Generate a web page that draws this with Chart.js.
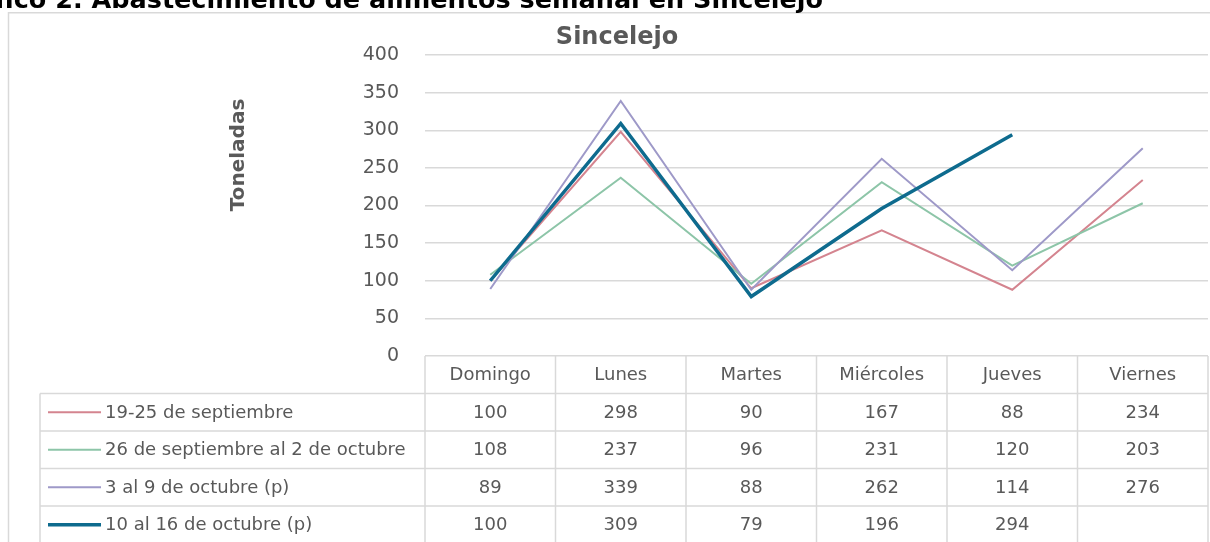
<!DOCTYPE html>
<html><head><meta charset="utf-8">
<script src="https://cdn.jsdelivr.net/npm/chart.js@4.4.1/dist/chart.umd.min.js"></script>
<style>
html,body{margin:0;padding:0;background:#fff;width:1210px;height:542px;overflow:hidden;}
#wrap{position:relative;width:1210px;height:542px;}
#pt{position:absolute;right:387px;top:-13.5px;font:bold 25.5px "DejaVu Sans";color:#000;white-space:nowrap;line-height:25.5px;z-index:2}
canvas{position:absolute;left:0;top:0}
</style></head><body>
<div id="wrap"><div id="pt">Gráfico 2. Abastecimiento de alimentos semanal en Sincelejo</div><canvas id="c" width="1210" height="542"></canvas></div>
<script>
const categories = ['Domingo', 'Lunes', 'Martes', 'Miércoles', 'Jueves', 'Viernes'];
const seriesNames = ['19-25 de septiembre', '26 de septiembre al 2 de octubre', '3 al 9 de octubre (p)', '10 al 16 de octubre (p)'];
const sep19 = [100, 298, 90, 167, 88, 234];
const sep26 = [108, 237, 96, 231, 120, 203];
const oct3 = [89, 339, 88, 262, 114, 276];
const oct10 = [100, 309, 79, 196, 294, null];
const yTicks = [0, 50, 100, 150, 200, 250, 300, 350, 400];
const colors = ['#D4848F', '#8DC5A8', '#9E99C8', '#0E6B8E'];
const widths = [2, 2, 2, 3.5];
const seriesData = [sep19, sep26, oct3, oct10];

const GRID = '#D9D9D9';
const TXT = '#595959';
const FONT = '"DejaVu Sans"';

const tablePlugin = {
  id: 'dataTable',
  afterDraw(chart) {
    const ctx = chart.ctx;
    const xs = chart.scales.x;
    const area = chart.chartArea;
    const rowH = 37.5;
    const top = area.bottom;
    const left = area.left, right = area.right;
    const tableLeft = 40;
    const colW = (right - left) / categories.length;
    const bottom = top + rowH * 5;
    ctx.save();
    // outer chart border
    ctx.strokeStyle = GRID;
    ctx.lineWidth = 1.5;
    ctx.strokeRect(8.5, 12.75, 1400, 700);
    // table lines
    ctx.beginPath();
    for (let k = 1; k <= 4; k++) {
      const y = top + rowH * k;
      ctx.moveTo(tableLeft, y); ctx.lineTo(right, y);
    }
    ctx.moveTo(tableLeft, top + rowH); ctx.lineTo(tableLeft, bottom);
    for (let i = 0; i <= categories.length; i++) {
      const x = i < categories.length ? xs.getPixelForTick(i) - colW / 2 : xs.getPixelForTick(i - 1) + colW / 2;
      ctx.moveTo(x, top); ctx.lineTo(x, bottom);
    }
    ctx.stroke();
    // header text
    ctx.fillStyle = TXT;
    ctx.font = '18px ' + FONT;
    ctx.textAlign = 'center';
    ctx.textBaseline = 'middle';
    categories.forEach((c, i) => {
      ctx.fillText(c, xs.getPixelForTick(i), top + rowH / 2 + 1);
    });
    // rows
    seriesData.forEach((arr, r) => {
      const cy = top + rowH * (r + 1) + rowH / 2 + 1;
      ctx.strokeStyle = colors[r];
      ctx.lineWidth = widths[r];
      ctx.beginPath();
      ctx.moveTo(48, cy - 1); ctx.lineTo(101, cy - 1);
      ctx.stroke();
      ctx.textAlign = 'left';
      ctx.fillStyle = TXT;
      ctx.fillText(seriesNames[r], 105, cy);
      ctx.textAlign = 'center';
      arr.forEach((v, i) => {
        if (v !== null) ctx.fillText(String(v), xs.getPixelForTick(i), cy);
      });
    });
    // y axis title
    ctx.save();
    ctx.translate(239, 155);
    ctx.rotate(-Math.PI / 2);
    ctx.font = 'bold 20px ' + FONT;
    ctx.fillStyle = TXT;
    ctx.textAlign = 'center';
    ctx.textBaseline = 'middle';
    ctx.fillText('Toneladas', 0, 0);
    ctx.restore();
    ctx.restore();
  }
};

new Chart(document.getElementById('c'), {
  type: 'line',
  data: {
    labels: categories,
    datasets: seriesNames.map((n, i) => ({
      label: n,
      data: seriesData[i],
      borderColor: colors[i],
      backgroundColor: colors[i],
      borderWidth: widths[i],
      pointRadius: 0,
      tension: 0,
      fill: false,
      order: 3 - i
    }))
  },
  options: {
    responsive: false,
    animation: false,
    events: [],
    layout: { padding: { left: 26, right: 2, top: 0, bottom: 186 } },
    plugins: {
      legend: { display: false },
      tooltip: { enabled: false },
      title: {
        display: true,
        text: 'Sincelejo',
        color: TXT,
        font: { family: 'DejaVu Sans', size: 24, weight: 'bold', lineHeight: 1.2 },
        padding: { top: 23, bottom: 3.2 }
      }
    },
    scales: {
      x: { type: 'category', display: false, offset: true },
      y: {
        min: 0, max: 400,
        afterFit(scale) { scale.width = 399; },
        afterBuildTicks(scale) { scale.ticks = yTicks.map(v => ({ value: v })); },
        border: { display: false },
        grid: { color: GRID, lineWidth: 1.5, drawTicks: false },
        ticks: { color: TXT, padding: 26, font: { family: 'DejaVu Sans', size: 19 } }
      }
    }
  },
  plugins: [tablePlugin]
});
</script>
</body></html>
